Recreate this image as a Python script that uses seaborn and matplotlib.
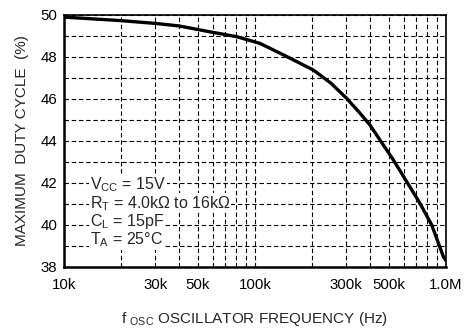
import matplotlib
matplotlib.use("Agg")
import matplotlib.pyplot as plt
import matplotlib.ticker as mticker
import pandas as pd
import seaborn as sns

# values
freq_hz = [10e3, 20e3, 30e3, 40e3, 58e3, 80e3, 106e3, 141e3, 202e3, 250e3, 302e3,
           355e3, 400e3, 451e3, 530e3, 623e3, 731e3, 842e3, 968e3, 1e6]
duty_pct = [49.9, 49.73, 49.6, 49.48, 49.2, 48.97, 48.65, 48.1, 47.38, 46.75, 46.03,
            45.32, 44.76, 44.05, 43.1, 42.06, 41.03, 40.0, 38.5, 38.3]

x_ticks = [10e3, 30e3, 50e3, 100e3, 300e3, 500e3, 1e6]
x_ticklabels = ["10k", "30k", "50k", "100k", "300k", "500k", "1.0M"]
y_ticks = [38, 40, 42, 44, 46, 48, 50]

conditions = [r"V$_{\rm CC}$ = 15V",
              r"R$_{\rm T}$ = 4.0k$\Omega$ to 16k$\Omega$",
              r"C$_{\rm L}$ = 15pF",
              r"T$_{\rm A}$ = 25°C"]

df = pd.DataFrame({"freq": freq_hz, "duty": duty_pct})

sns.set_style("white")
plt.rcParams["font.family"] = ["Liberation Sans", "DejaVu Sans"]
plt.rcParams["mathtext.fontset"] = "custom"
plt.rcParams["mathtext.rm"] = "Liberation Sans"
plt.rcParams["mathtext.it"] = "Liberation Sans:italic"

fig, ax = plt.subplots(figsize=(4.67, 3.30), dpi=100)
fig.subplots_adjust(left=64/467, right=446/467, top=1-15/330, bottom=1-267/330)

sns.lineplot(data=df, x="freq", y="duty", color="black", linewidth=2.4, ax=ax)

ax.set_xscale("log")
ax.set_xlim(10e3, 1e6)
ax.set_ylim(38, 50)
ax.set_xticks(x_ticks)
ax.set_xticklabels(x_ticklabels)
ax.xaxis.set_minor_locator(mticker.LogLocator(base=10, subs=range(2, 10)))
ax.xaxis.set_minor_formatter(mticker.NullFormatter())
ax.set_yticks(y_ticks)
ax.yaxis.set_minor_locator(mticker.MultipleLocator(1))

ax.grid(True, which="both", color="black", linewidth=0.8, linestyle=(0, (4, 2.5)))
ax.set_axisbelow(True)
ax.tick_params(which="both", length=0, labelsize=10.8, colors="black")
ax.tick_params(axis="x", pad=8)
ax.tick_params(axis="y", pad=5)

for side, sp in ax.spines.items():
    sp.set_visible(True)
    sp.set_color("black")
    sp.set_linewidth(1.8 if side in ("left", "bottom") else 1.2)

ax.set_ylabel("MAXIMUM  DUTY CYCLE  (%)", fontsize=11, labelpad=8)
ax.set_xlabel(r"f $_{\rm OSC}$ OSCILLATOR FREQUENCY (Hz)", fontsize=11, labelpad=13)

for i, line in enumerate(conditions):
    ax.text(13.7e3, 41.9 - i * 0.87, line, fontsize=11.5, va="center", ha="left",
            bbox=dict(facecolor="white", edgecolor="none", pad=0.5))

fig.savefig("out.png", dpi=100)
